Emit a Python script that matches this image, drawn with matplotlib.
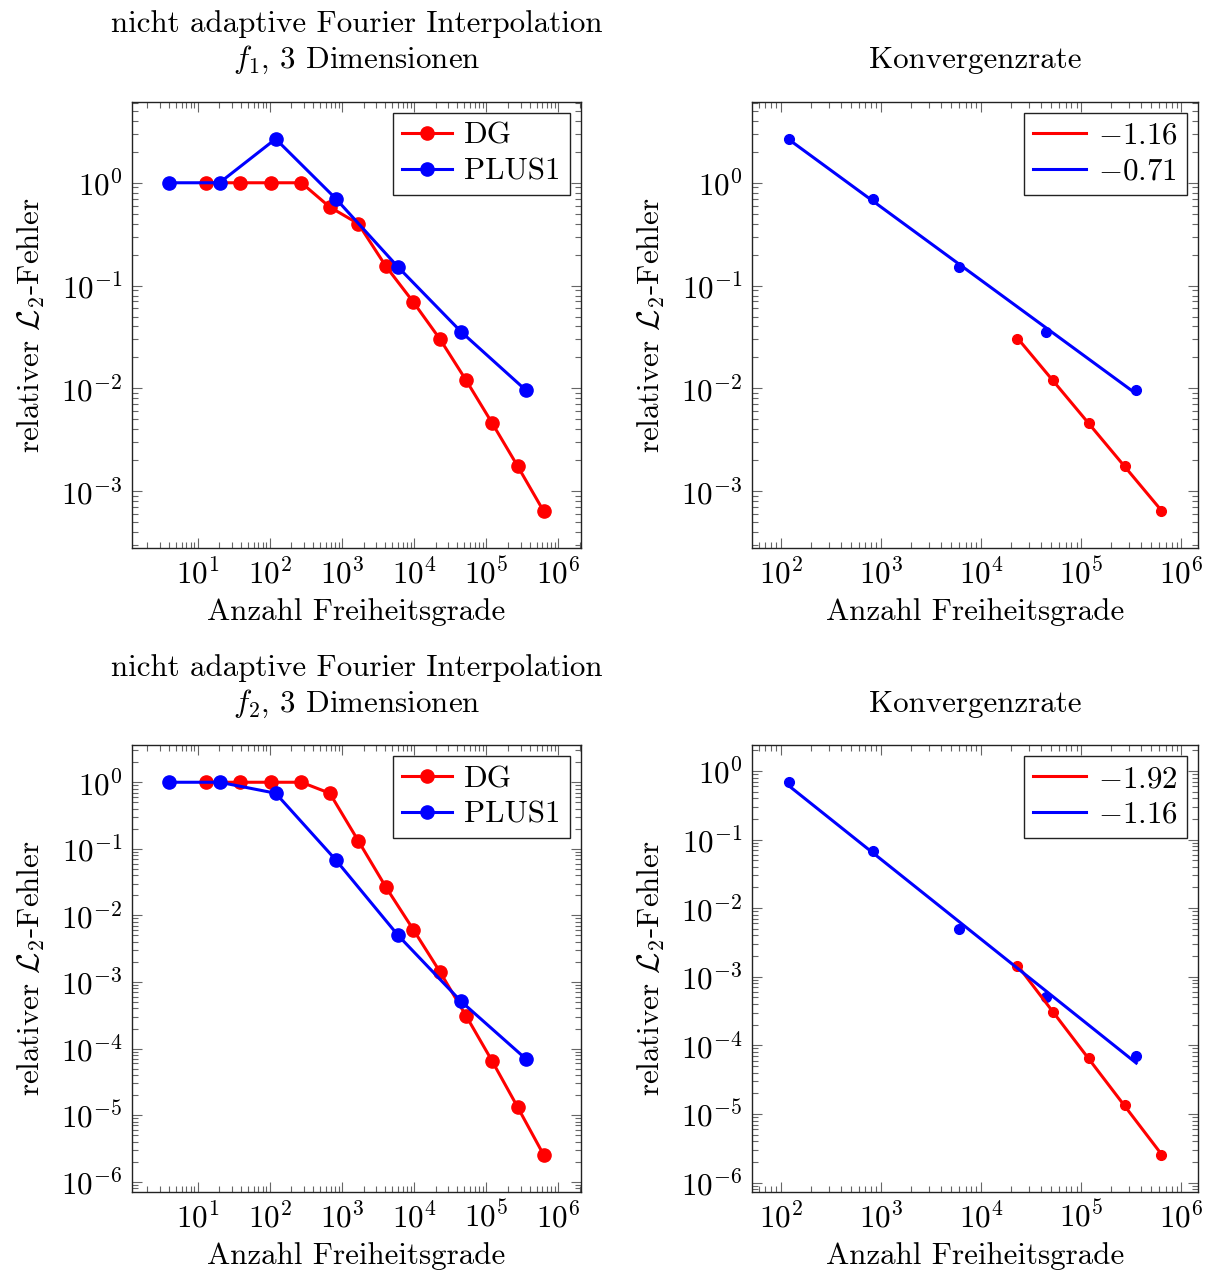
import numpy as np
import matplotlib
matplotlib.use("Agg")
import matplotlib.pyplot as plt

plt.rcParams['font.family'] = ['cmr10', 'DejaVu Serif']
plt.rcParams['mathtext.fontset'] = 'cm'
plt.rcParams['axes.formatter.use_mathtext'] = True
plt.rcParams['font.size'] = 22.3
plt.rcParams['axes.titlesize'] = 22.3
plt.rcParams['axes.labelsize'] = 22.3
plt.rcParams['legend.fontsize'] = 22.3

# Anzahl Freiheitsgrade
dof_dg = [13.2, 38.3, 106, 275, 681, 1690, 4080, 9800, 23000, 52700, 120000, 272000, 625000]
dof_plus1 = [4.08, 20.2, 121, 826, 6030, 45000, 355000]

# relativer L2-Fehler, f1
err_dg_f1 = [1.0, 1.0, 1.0, 1.0, 0.58, 0.40, 0.154, 0.069, 0.030, 0.012, 0.00464, 0.00176, 0.00064]
err_plus1_f1 = [1.0, 1.0, 2.67, 0.70, 0.151, 0.0355, 0.0096]

# relativer L2-Fehler, f2
err_dg_f2 = [1.0, 1.0, 1.0, 1.0, 0.684, 0.132, 0.0266, 0.0061, 0.00141, 3.1e-4, 6.6e-5, 1.33e-5, 2.54e-6]
err_plus1_f2 = [1.0, 1.0, 0.684, 0.068, 0.0050, 0.00051, 7.0e-5]

# Punkte fuer die Konvergenzrate (letzte Punkte)
n_rate_dg = 5
n_rate_plus1 = 5
rate_labels_f1 = [r'$-1.16$', r'$-0.71$']
rate_labels_f2 = [r'$-1.92$', r'$-1.16$']

titles = [r'nicht adaptive Fourier Interpolation' + '\n' + r'$f_1$, 3 Dimensionen',
          r'nicht adaptive Fourier Interpolation' + '\n' + r'$f_2$, 3 Dimensionen']

RED = '#ff0000'
BLUE = '#0000ff'

fig = plt.figure(figsize=(12.1, 12.73), dpi=100)
pos = [
    [132/1210, 1 - 548.3/1273, 449/1210, 446.6/1273],
    [752/1210, 1 - 548.3/1273, 446/1210, 446.6/1273],
    [132/1210, 1 - 1192/1273, 449/1210, 447/1273],
    [752/1210, 1 - 1192/1273, 446/1210, 447/1273],
]
axes = [fig.add_axes(p) for p in pos]


def style(ax):
    ax.set_xscale('log')
    ax.set_yscale('log')
    ax.margins(0.1)
    ax.tick_params(which='both', direction='in', top=True, right=True,
                   color='#666666', width=0.8)
    ax.tick_params(which='major', length=7)
    ax.tick_params(which='minor', length=4.5)
    ax.tick_params(axis='x', pad=7)
    ax.tick_params(axis='y', pad=7)
    ax.xaxis.set_major_locator(matplotlib.ticker.LogLocator(base=10, numticks=20))
    ax.yaxis.set_major_locator(matplotlib.ticker.LogLocator(base=10, numticks=20))
    ax.xaxis.set_minor_locator(matplotlib.ticker.LogLocator(base=10, subs=np.arange(2, 10), numticks=20))
    ax.yaxis.set_minor_locator(matplotlib.ticker.LogLocator(base=10, subs=np.arange(2, 10), numticks=20))
    ax.yaxis.set_minor_formatter(matplotlib.ticker.NullFormatter())
    ax.xaxis.set_minor_formatter(matplotlib.ticker.NullFormatter())
    for s in ax.spines.values():
        s.set_linewidth(1.0)
        s.set_color('#222222')
    ax.set_xlabel('Anzahl Freiheitsgrade', labelpad=6)
    ax.set_ylabel(r'relativer $\mathcal{L}_2$-Fehler', labelpad=10)


def left_panel(ax, e_dg, e_plus1, title):
    ax.plot(dof_dg, e_dg, '-o', color=RED, lw=2.2, ms=9.5, label='DG')
    ax.plot(dof_plus1, e_plus1, '-o', color=BLUE, lw=2.2, ms=9.5, label='PLUS1')
    style(ax)
    ax.set_title(title, pad=24, linespacing=1.25)
    leg = ax.legend(loc='upper right', fancybox=False, framealpha=1, edgecolor='#222222',
                    handlelength=1.6, borderpad=0.3, labelspacing=0.25, handletextpad=0.4,
                    borderaxespad=0.35, markerscale=1.0)
    leg.get_frame().set_linewidth(1.0)


def right_panel(ax, e_dg, e_plus1, labels):
    x_dg = np.array(dof_dg[-n_rate_dg:])
    y_dg = np.array(e_dg[-n_rate_dg:])
    x_p1 = np.array(dof_plus1[-n_rate_plus1:])
    y_p1 = np.array(e_plus1[-n_rate_plus1:])
    ax.plot(x_dg, y_dg, 'o', color=RED, ms=7)
    ax.plot(x_p1, y_p1, 'o', color=BLUE, ms=7)
    # lineare Regression in log-log
    for x, y, c, lab in [(x_dg, y_dg, RED, labels[0]), (x_p1, y_p1, BLUE, labels[1])]:
        k, d = np.polyfit(np.log10(x), np.log10(y), 1)
        ax.plot(x, 10 ** (k * np.log10(x) + d), '-', color=c, lw=2.2, label=lab,
                scalex=False, scaley=False)
    style(ax)
    ax.set_title('Konvergenzrate', pad=24)
    leg = ax.legend(loc='upper right', fancybox=False, framealpha=1, edgecolor='#222222',
                    handlelength=1.7, borderpad=0.3, labelspacing=0.25, handletextpad=0.4,
                    borderaxespad=0.35)
    leg.get_frame().set_linewidth(1.0)


left_panel(axes[0], err_dg_f1, err_plus1_f1, titles[0])
right_panel(axes[1], err_dg_f1, err_plus1_f1, rate_labels_f1)
left_panel(axes[2], err_dg_f2, err_plus1_f2, titles[1])
right_panel(axes[3], err_dg_f2, err_plus1_f2, rate_labels_f2)

fig.savefig('out.png', dpi=100)
